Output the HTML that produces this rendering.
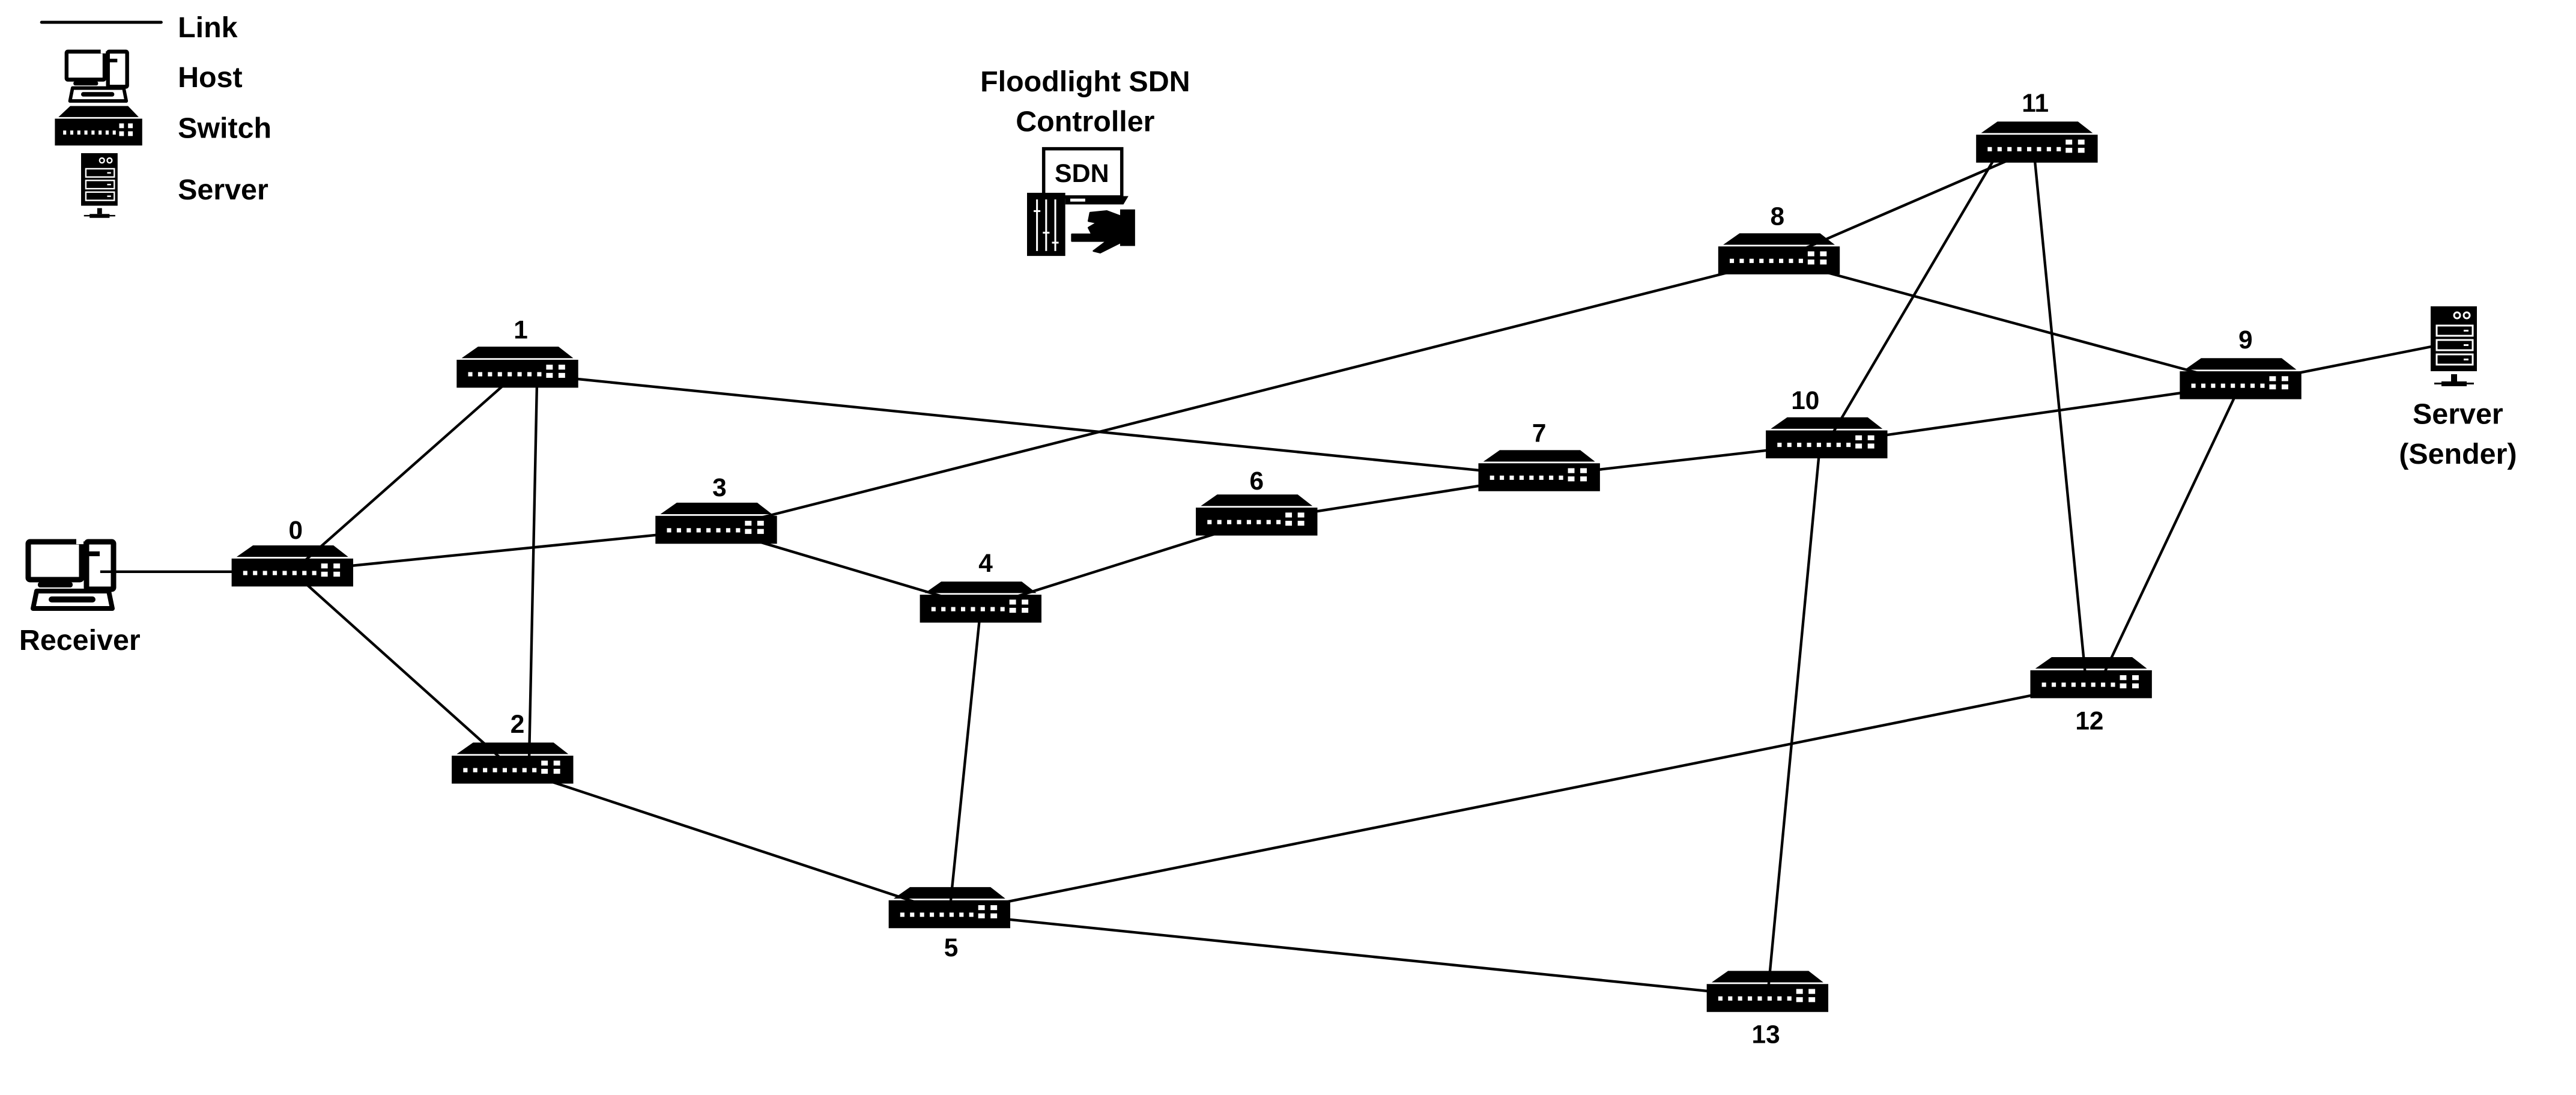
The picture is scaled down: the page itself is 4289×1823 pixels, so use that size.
<!DOCTYPE html>
<html><head><meta charset="utf-8"><style>
html,body{margin:0;padding:0;background:#fff;}
svg{display:block;}
text{font-family:"Liberation Sans",Arial,sans-serif;font-weight:bold;fill:#000;}
</style></head><body>
<svg width="4289" height="1823" viewBox="0 0 4289 1823" xmlns="http://www.w3.org/2000/svg">
<defs>
<g id="sw">
<polygon points="-24,-16 25,-16 34,-9 -34,-9" fill="#000"/>
<rect x="-37" y="-8" width="74" height="17" fill="#000"/>
<g fill="#fff">
<rect x="-30" y="-0.5" width="2.6" height="2.6"/><rect x="-24" y="-0.5" width="2.6" height="2.6"/>
<rect x="-18" y="-0.5" width="2.6" height="2.6"/><rect x="-12" y="-0.5" width="2.6" height="2.6"/>
<rect x="-6" y="-0.5" width="2.6" height="2.6"/><rect x="0" y="-0.5" width="2.6" height="2.6"/>
<rect x="6" y="-0.5" width="2.6" height="2.6"/><rect x="12" y="-0.5" width="2.6" height="2.6"/>
<rect x="17.5" y="-5" width="4" height="3"/><rect x="17.5" y="0" width="4" height="3"/>
<rect x="25" y="-5" width="4" height="3"/><rect x="25" y="0" width="4" height="3"/>
</g>
</g>
<g id="host">
<rect x="4" y="4" width="89" height="63" rx="3" fill="none" stroke="#000" stroke-width="9"/>
<rect x="84" y="-2" width="12" height="10" fill="#fff"/>
<rect x="101" y="4" width="45" height="79" rx="3" fill="none" stroke="#000" stroke-width="9"/>
<rect x="101" y="20" width="22" height="8" fill="#000"/>
<rect x="20" y="71" width="58" height="9" rx="4" fill="#000"/>
<polygon points="18,86 138,86 144,115 12,115" fill="none" stroke="#000" stroke-width="8" stroke-linejoin="round"/>
<rect x="38" y="95" width="78" height="10" rx="5" fill="#000"/>
</g>
<g id="server">
<rect x="0" y="0" width="77" height="108" fill="#000"/>
<circle cx="44" cy="15" r="5" fill="none" stroke="#fff" stroke-width="3"/>
<circle cx="60" cy="15" r="5" fill="none" stroke="#fff" stroke-width="3"/>
<rect x="10" y="32" width="60" height="17" fill="none" stroke="#fff" stroke-width="3"/>
<rect x="10" y="56" width="60" height="17" fill="none" stroke="#fff" stroke-width="3"/>
<rect x="10" y="80" width="60" height="17" fill="none" stroke="#fff" stroke-width="3"/>
<rect x="55" y="39" width="8" height="3" fill="#fff"/>
<rect x="55" y="63" width="8" height="3" fill="#fff"/>
<rect x="55" y="87" width="8" height="3" fill="#fff"/>
<rect x="34" y="113" width="10" height="12" fill="#000"/>
<rect x="18" y="125" width="42" height="8" fill="#000"/>
<rect x="6" y="127" width="66" height="3" fill="#000"/>
</g>
</defs>

<g transform="scale(2.735)">
<g stroke="#000" stroke-width="1.6" fill="none">
<line x1="61" y1="348" x2="178" y2="348"/>
<line x1="178" y1="348" x2="315" y2="227"/>
<line x1="178" y1="348" x2="312" y2="468"/>
<line x1="178" y1="348" x2="436" y2="322"/>
<line x1="327" y1="227" x2="322" y2="468"/>
<line x1="315" y1="227" x2="937" y2="290"/>
<line x1="436" y1="322" x2="1083" y2="158"/>
<line x1="436" y1="322" x2="597" y2="370"/>
<line x1="597" y1="370" x2="765" y2="317"/>
<line x1="597" y1="370" x2="578" y2="556"/>
<line x1="765" y1="317" x2="937" y2="290"/>
<line x1="937" y1="290" x2="1112" y2="270"/>
<line x1="1112" y1="270" x2="1364" y2="234"/>
<line x1="1112" y1="270" x2="1218" y2="90"/>
<line x1="1108" y1="270" x2="1076" y2="607"/>
<line x1="1083" y1="158" x2="1240" y2="90"/>
<line x1="1083" y1="158" x2="1364" y2="234"/>
<line x1="1238" y1="90" x2="1270" y2="416"/>
<line x1="1364" y1="234" x2="1278" y2="416"/>
<line x1="1364" y1="234" x2="1480" y2="211"/>
<line x1="312" y1="468" x2="578" y2="556"/>
<line x1="578" y1="556" x2="1273" y2="416"/>
<line x1="578" y1="556" x2="1076" y2="607"/>
</g>
<use href="#sw" transform="translate(178,348)"/>
<use href="#sw" transform="translate(315,227)"/>
<use href="#sw" transform="translate(312,468)"/>
<use href="#sw" transform="translate(436,322)"/>
<use href="#sw" transform="translate(597,370)"/>
<use href="#sw" transform="translate(578,556)"/>
<use href="#sw" transform="translate(765,317)"/>
<use href="#sw" transform="translate(937,290)"/>
<use href="#sw" transform="translate(1083,158)"/>
<use href="#sw" transform="translate(1364,234)"/>
<use href="#sw" transform="translate(1112,270)"/>
<use href="#sw" transform="translate(1240,90)"/>
<use href="#sw" transform="translate(1273,416)"/>
<use href="#sw" transform="translate(1076,607)"/>
<g font-size="15.5" text-anchor="middle">
<text x="180" y="328">0</text>
<text x="317" y="206">1</text>
<text x="315" y="446">2</text>
<text x="438" y="302">3</text>
<text x="600" y="348">4</text>
<text x="579" y="582">5</text>
<text x="765" y="298">6</text>
<text x="937" y="269">7</text>
<text x="1082" y="137">8</text>
<text x="1367" y="212">9</text>
<text x="1099" y="249">10</text>
<text x="1239" y="68">11</text>
<text x="1272" y="444">12</text>
<text x="1075" y="635">13</text>
</g>
</g>

<g transform="scale(2.767)">
<g font-size="17.5" text-anchor="middle">
<text x="48" y="391">Receiver</text>
<text x="1479" y="255">Server</text>
<text x="1479" y="279">(Sender)</text>
<text x="653" y="55">Floodlight SDN</text>
<text x="653" y="79">Controller</text>
</g>
<line x1="25" y1="13.4" x2="97" y2="13.4" stroke="#000" stroke-width="1.8" stroke-linecap="round"/>
<g font-size="17.5">
<text x="107" y="22.4">Link</text>
<text x="107" y="52.4">Host</text>
<text x="107" y="83">Switch</text>
<text x="107" y="120">Server</text>
</g>
<use href="#sw" transform="translate(59.3,79) scale(0.71,0.95)"/>
<rect x="628" y="89.5" width="47" height="29" fill="none" stroke="#000" stroke-width="2"/>
<text x="651" y="109.5" font-size="15.5" text-anchor="middle">SDN</text>
<polygon points="641,118 679,118 676,123 641,123" fill="#000"/>
<rect x="644" y="119.5" width="9" height="1.8" fill="#fff"/>
<rect x="618" y="116" width="23" height="38" fill="#000"/>
<g stroke="#fff" stroke-width="1.1">
<line x1="624" y1="120" x2="624" y2="151"/><line x1="622" y1="127" x2="626" y2="127"/>
<line x1="629.5" y1="120" x2="629.5" y2="151"/><line x1="627.5" y1="140" x2="631.5" y2="140"/>
<line x1="635" y1="120" x2="635" y2="151"/><line x1="633" y1="146" x2="637" y2="146"/>
</g>
<path d="M645,145 L666,145 L658,151 L662,152 L674,146 L674,130 L666,127 L656,128 L655,133 L660,134 L655,137 L657,141 L645,141 Z" fill="#000" stroke="#000" stroke-width="1" stroke-linejoin="round"/>
<rect x="674" y="126" width="9" height="22" fill="#000"/>
</g>
<use href="#host" transform="translate(108,83) scale(0.71,0.74)"/>
<use href="#host" transform="translate(43,898)"/>
<use href="#server" transform="translate(4047,510)"/>
<use href="#server" transform="translate(135,255) scale(0.79,0.81)"/>
</svg>
</body></html>
